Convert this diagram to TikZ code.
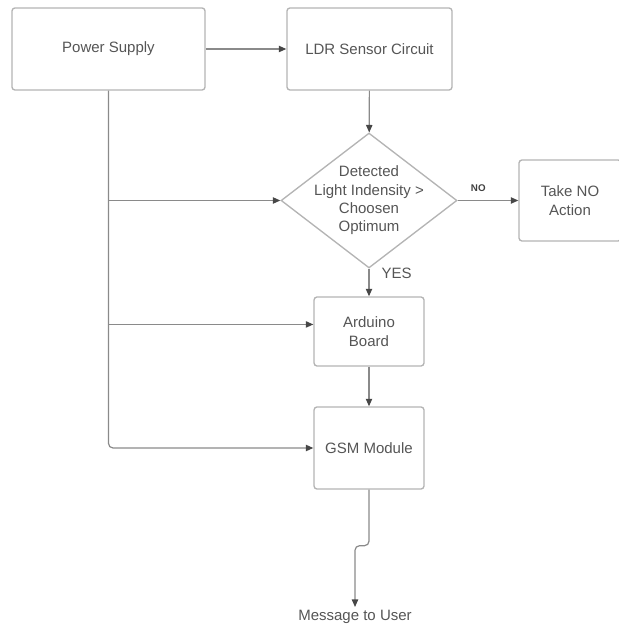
\documentclass[tikz,border=0pt]{standalone}
\usepackage{fontspec}
\setmainfont{Liberation Sans}
\usepackage{tikz}
\usetikzlibrary{arrows.meta,shapes.geometric,calc}
\definecolor{boxline}{HTML}{B4B4B4}
\definecolor{wireline}{HTML}{8A8A8A}
\definecolor{labeltext}{HTML}{555555}

\begin{document}
\begin{tikzpicture}[x=0.6667pt, y=-0.6667pt,
  font=\fontsize{10}{12.2}\selectfont, text=labeltext,
  block/.style={draw=boxline, line width=0.9pt, rounded corners=2pt, align=center, inner sep=0pt},
  decision/.style={diamond, draw=boxline, line width=0.9pt, align=center, inner sep=-8.5pt,
    minimum width=117.3pt, minimum height=90pt},
  wire/.style={draw=wireline, line width=0.8pt},
  flow/.style={wire, -{Triangle[length=5pt,width=4.2pt,color=black!72]}}]
  \useasboundingbox (0,0) rectangle (618,628);
  \node[block, minimum width=128.7pt, minimum height=54.7pt] (ps) at (108.5,49) {Power Supply};
  \node[block, minimum width=110pt, minimum height=54.7pt] (ldr) at (369.5,49) {LDR Sensor Circuit};
  \node[decision] (dec) at (369,200.5) {Detected\\Light Indensity >\\Choosen\\Optimum};
  \node[block, minimum width=68pt, minimum height=54pt] (act) at (570,200.5) {Take NO\\Action};
  \node[block, minimum width=73.3pt, minimum height=46pt] (ard) at (369,331.5) {Arduino\\Board};
  \node[block, minimum width=73.3pt, minimum height=54.7pt] (gsm) at (369,448) {GSM Module};
  \node[inner sep=2pt] (msg) at (355,617) {Message to User};
  \coordinate (ardin) at ([yshift=4.7pt]ard.west);
  % main flow
  \draw[flow] (ps) -- (ldr);
  \draw[flow] (ldr) -- (dec);
  \draw[flow] (dec) -- node[above, pos=0.34, yshift=2.3pt, text=black!75,
    font=\fontsize{6.5}{8}\selectfont\bfseries] {NO} (act);
  \draw[flow] (dec) -- node[right, pos=0.17, xshift=4.7pt] {YES} (ard);
  \draw[flow] (ard) -- (gsm);
  % power feed lines
  \draw[flow, rounded corners=3pt] (ps.south) |- (gsm.west);
  \draw[flow] (ps.south |- dec.west) -- (dec.west);
  \draw[flow] (ps.south |- ardin) -- (ardin);
  \draw[flow, rounded corners=3pt] (gsm.south) -- ++(0,56) -| (msg.north);
\end{tikzpicture}
\end{document}
